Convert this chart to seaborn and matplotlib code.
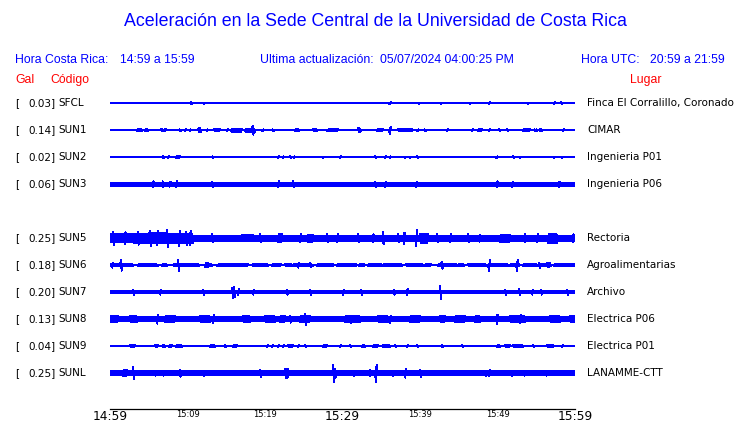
import numpy as np
import pandas as pd
import matplotlib
matplotlib.use("Agg")
import matplotlib.pyplot as plt
import seaborn as sns

# ---------------- data ----------------
title = "Aceleración en la Sede Central de la Universidad de Costa Rica"
hora_cr = "14:59 a 15:59"
actualizacion = "05/07/2024 04:00:25 PM"
hora_utc = "20:59 a 21:59"

codes = ["SFCL", "SUN1", "SUN2", "SUN3", "SUN5", "SUN6", "SUN7", "SUN8", "SUN9", "SUNL"]
gal = [0.03, 0.14, 0.02, 0.06, 0.25, 0.18, 0.20, 0.13, 0.04, 0.25]
places = ["Finca El Corralillo, Coronado", "CIMAR", "Ingenieria P01", "Ingenieria P06",
          "Rectoria", "Agroalimentarias", "Archivo", "Electrica P06", "Electrica P01",
          "LANAMME-CTT"]
slots = [0, 1, 2, 3, 5, 6, 7, 8, 9, 10]

tick_minutes = list(range(0, 61, 5))
tick_labels = ["14:59", "", "15:09", "", "15:19", "", "15:29", "", "15:39", "", "15:49", "", "15:59"]
major_labels = ["14:59", "15:29", "15:59"]

# background (noise) half-amplitude of each trace, relative units
base_amp = [0.1, 0.1, 0.1, 2.0, 3.2, 1.5, 1.9, 2.6, 0.1, 2.3]

# quiet stretches (minute start, minute end) where trace is only a thin line
quiet_SUN6 = [(3.0, 3.6), (6.2, 6.6), (7.4, 8.1), (11.6, 12.3), (13.2, 13.8), (17.9, 18.3),
              (20.4, 20.8), (22.1, 22.5), (23.5, 23.6), (26.2, 26.6), (28.9, 29.2), (31.9, 32.0),
              (32.9, 33.2), (35.1, 35.2), (37.8, 38.1), (40.4, 40.6), (41.5, 42.2), (44.8, 44.9),
              (45.8, 46.1), (48.6, 48.8), (51.4, 51.6), (52.9, 53.2), (55.1, 55.2), (57.0, 57.2)]

# bursts: (minute start, minute end, half-amplitude)
bursts_SFCL = []
bursts_SUN1 = [(3.5, 4.1, 1.8), (4.5, 4.9, 1.5), (6.6, 7.2, 1.3), (11.4, 11.7, 2.3), (13.4, 14.2, 1.5),
               (15.7, 17.0, 2.0), (17.5, 18.7, 2.2), (23.9, 24.3, 1.8), (26.2, 26.7, 1.8),
               (28.1, 29.4, 1.6), (32.0, 32.3, 2.5), (34.5, 35.2, 1.5), (37.2, 39.0, 1.8),
               (47.5, 48.0, 1.5), (53.3, 54.2, 1.8), (54.8, 55.1, 1.3), (55.4, 55.7, 1.3)]
bursts_SUN2 = [(8.5, 9.0, 1.5)]
bursts_SUN3 = []
bursts_SUN5 = [(0.0, 3.0, 4.6), (3.0, 5.0, 5.0), (5.0, 7.5, 5.6), (7.5, 10.7, 5.2),
               (17.0, 18.5, 3.9), (21.7, 22.2, 4.6), (25.5, 26.2, 4.2), (40.0, 41.0, 5.0),
               (50.3, 51.6, 4.2), (56.5, 57.7, 5.0)]
bursts_SUN6 = [(12.3, 12.7, 2.5), (56.4, 56.8, 2.5)]
bursts_SUN7 = [(15.8, 16.1, 5.0)]
bursts_SUN8 = [(0.0, 1.0, 3.4), (2.6, 3.5, 3.4), (7.1, 8.4, 3.4), (11.6, 12.9, 3.4), (17.2, 18.1, 3.4),
               (20.0, 21.3, 3.4), (21.9, 22.6, 3.4), (24.5, 25.8, 3.4), (30.3, 32.3, 3.4),
               (34.6, 35.9, 3.4), (38.7, 40.0, 3.4), (42.6, 43.2, 3.4), (44.5, 45.8, 3.4),
               (47.1, 47.7, 3.4), (51.6, 53.5, 3.4), (56.8, 58.1, 3.4), (59.4, 60.0, 3.4)]
bursts_SUN9 = [(2.6, 3.2, 1.5), (5.8, 6.2, 1.5), (6.8, 7.1, 1.5), (7.7, 8.0, 1.5), (8.5, 9.3, 1.5),
               (12.9, 13.5, 1.5), (15.9, 16.4, 1.5), (23.0, 23.6, 1.5), (27.5, 28.0, 1.5),
               (32.5, 32.9, 1.5), (33.9, 34.6, 1.5), (35.2, 36.1, 1.5), (49.9, 50.3, 1.5),
               (51.0, 51.6, 1.5), (52.0, 53.3, 1.5), (56.4, 57.2, 1.5)]
bursts_SUNL = [(1.7, 2.2, 3.5), (22.6, 23.0, 5.0)]

# spikes: (minute, half-amplitude)
spikes_SFCL = [(10.45, 1.5), (12.1, 1.0), (36.1, 1.5), (39.9, 1.0), (42.6, 1.0), (46.5, 1.0),
               (48.9, 1.5), (53.8, 1.0), (57.3, 1.5), (58.2, 1.5)]
spikes_SUN1 = [(9.0, 1.3), (9.7, 1.3), (10.3, 1.3), (12.5, 1.3), (15.1, 1.3), (18.45, 5.0),
               (19.7, 1.3), (21.0, 1.3), (36.1, 4.0), (39.7, 1.3), (40.6, 1.3), (43.5, 1.3),
               (46.7, 1.5), (48.9, 1.5), (50.2, 1.3), (51.2, 1.3), (58.5, 1.3)]
spikes_SUN2 = [(6.8, 1.5), (7.5, 1.3), (13.2, 1.3), (21.7, 1.8), (22.3, 1.3), (23.2, 1.3),
               (23.7, 1.3), (27.4, 1.0), (29.7, 1.3), (34.2, 1.3), (35.5, 1.5), (36.1, 1.3),
               (38.1, 1.0), (38.7, 1.0), (39.6, 1.3), (49.9, 1.5), (52.0, 1.5), (52.8, 1.0),
               (57.3, 1.0), (58.2, 1.0)]
spikes_SUN3 = [(5.5, 3.3), (6.8, 3.3), (7.7, 3.0), (8.5, 3.5), (13.2, 3.0), (21.7, 3.8), (23.6, 3.3),
               (34.2, 3.0), (35.5, 3.0), (39.5, 3.0), (49.9, 3.5), (51.9, 3.0), (57.9, 3.0)]
spikes_SUN5 = [(0.4, 7.0), (1.9, 6.5), (3.6, 7.0), (5.2, 8.0), (6.1, 7.5), (7.4, 9.0), (8.9, 8.0),
               (9.8, 7.0), (10.3, 7.5), (13.2, 4.5), (19.4, 4.5), (24.5, 4.5), (28.0, 4.5),
               (29.3, 4.5), (32.0, 4.5), (33.9, 4.5), (35.2, 6.5), (37.2, 4.5), (37.9, 6.0),
               (39.5, 8.5), (42.2, 4.5), (43.9, 4.5), (46.2, 4.5), (47.7, 4.0), (53.5, 4.5),
               (55.1, 4.5), (59.7, 4.5)]
spikes_SUN6 = [(0.3, 3.0), (1.4, 6.0), (8.8, 6.0), (24.3, 3.0), (25.8, 2.5), (42.8, 4.0),
               (48.9, 6.0), (52.5, 6.0), (55.4, 3.0)]
spikes_SUN7 = [(3.0, 3.0), (6.5, 3.0), (12.0, 3.0), (15.9, 6.0), (16.5, 3.5), (18.5, 3.0),
               (22.8, 3.0), (25.8, 3.0), (30.1, 3.0), (32.4, 3.0), (36.6, 3.0), (38.3, 3.5),
               (42.6, 7.0), (51.0, 3.0), (52.8, 3.5), (54.5, 3.0), (55.6, 3.0), (59.0, 3.0)]
spikes_SUN8 = [(6.1, 5.0), (13.3, 4.5), (23.2, 4.0), (25.2, 6.0), (31.0, 4.0), (36.1, 4.0),
               (49.9, 5.0), (52.9, 4.5)]
spikes_SUN9 = [(14.8, 1.5), (20.3, 1.5), (20.9, 1.5), (21.7, 1.5), (22.3, 1.5), (24.3, 1.5),
               (25.2, 1.5), (29.7, 1.5), (31.0, 1.5), (36.8, 1.5), (38.3, 1.5), (39.6, 1.5),
               (42.8, 1.5), (45.4, 1.5), (54.6, 1.5), (58.3, 1.5)]
spikes_SUNL = [(1.9, 3.0), (3.0, 6.5), (5.9, 3.0), (6.8, 3.0), (9.0, 4.0), (12.0, 3.0), (19.4, 4.0),
               (28.8, 9.0), (29.0, 5.0), (31.4, 3.0), (33.5, 3.5), (34.3, 9.0), (36.5, 3.0),
               (38.1, 5.0), (40.0, 4.0), (48.4, 3.0), (48.9, 3.5), (51.9, 3.0), (53.5, 3.0),
               (56.3, 3.0)]

quiet = {"SUN6": quiet_SUN6}
bursts = [bursts_SFCL, bursts_SUN1, bursts_SUN2, bursts_SUN3, bursts_SUN5, bursts_SUN6,
          bursts_SUN7, bursts_SUN8, bursts_SUN9, bursts_SUNL]
spikes = [spikes_SFCL, spikes_SUN1, spikes_SUN2, spikes_SUN3, spikes_SUN5, spikes_SUN6,
          spikes_SUN7, spikes_SUN8, spikes_SUN9, spikes_SUNL]

# ---------------- drawing ----------------
W, H = 740, 423
sns.set_style("white")
plt.rcParams["font.family"] = ["DejaVu Sans"]
fig = plt.figure(figsize=(W / 100, H / 100), dpi=100)
ax = fig.add_axes([110 / W, (H - 409) / H, 465 / W, 322 / H])

ROW_PX = 27.0
LW_PX = 1.0
t = np.round(np.arange(0, 60.0001, 0.1), 2)
sign = np.where(np.arange(len(t)) % 2 == 0, 1.0, -1.0)

frames = []
for i, code in enumerate(codes):
    env = np.full(len(t), base_amp[i])
    for (a, b) in quiet.get(code, []):
        env[(t >= a) & (t <= b)] = 0.1
    for (a, b, amp) in bursts[i]:
        m = (t >= a) & (t <= b)
        env[m] = np.maximum(env[m], amp)
    for (tm, amp) in spikes[i]:
        k = int(round(tm / 0.1))
        for kk in (k, k + 1):
            if 0 <= kk < len(t):
                env[kk] = max(env[kk], amp)
    half = np.maximum(env - LW_PX / 2, 0.0)
    y = slots[i] - sign * half / ROW_PX
    frames.append(pd.DataFrame({"minute": t, "y": y, "code": code}))

df = pd.concat(frames, ignore_index=True)
for code in codes:
    sub = df[df["code"] == code]
    sns.lineplot(data=sub, x="minute", y="y", ax=ax, color="#0000FF", lw=LW_PX * 0.72,
                 estimator=None, sort=False, legend=False, antialiased=False)

ax.set_xlim(0, 60)
ax.set_ylim(11.33, -0.6)
ax.set_xlabel("")
ax.set_ylabel("")
ax.set_yticks([])
ax.set_xticks(tick_minutes)
ax.set_xticklabels(tick_labels)
for lab in ax.get_xticklabels():
    if lab.get_text() in major_labels:
        lab.set_fontsize(8.8)
    else:
        lab.set_fontsize(6.0)
ax.tick_params(axis="x", direction="in", length=6.2, width=0.9, color="black", pad=1.0,
               labelcolor="black")
for s in ["left", "right", "top"]:
    ax.spines[s].set_visible(False)
ax.spines["bottom"].set_color("black")
ax.spines["bottom"].set_linewidth(0.9)
ax.patch.set_alpha(0)


def fx(x):
    return x / W


def fy(y):
    return 1 - y / H


hdr = dict(family=["Liberation Sans"], color="#0000FF", va="center")
fig.text(fx(375), fy(22), title, ha="center", fontsize=12.8, **hdr)
fig.text(fx(15), fy(60), "Hora Costa Rica:", ha="left", fontsize=8.8, **hdr)
fig.text(fx(120), fy(60), hora_cr, ha="left", fontsize=8.8, **hdr)
fig.text(fx(260), fy(60), "Ultima actualización:", ha="left", fontsize=8.8, **hdr)
fig.text(fx(380), fy(60), actualizacion, ha="left", fontsize=8.8, **hdr)
fig.text(fx(581), fy(60), "Hora UTC:", ha="left", fontsize=8.8, **hdr)
fig.text(fx(650), fy(60), hora_utc, ha="left", fontsize=8.8, **hdr)

red = dict(family=["Liberation Sans"], color="#FF0000", va="center", fontsize=8.8)
fig.text(fx(15), fy(80), "Gal", ha="left", **red)
fig.text(fx(50), fy(80), "Código", ha="left", **red)
fig.text(fx(630), fy(80), "Lugar", ha="left", **red)

for i, code in enumerate(codes):
    yp = 103 + 27 * slots[i]
    fig.text(fx(15), fy(yp), "[", ha="left", va="center", fontsize=7.5, color="black")
    fig.text(fx(55.5), fy(yp), f"{gal[i]:.2f}]", ha="right", va="center", fontsize=7.5, color="black")
    fig.text(fx(58), fy(yp), code, ha="left", va="center", fontsize=7.5, color="black")
    fig.text(fx(587), fy(yp), places[i], ha="left", va="center", fontsize=7.5, color="black")

fig.savefig("out.png", dpi=100)
